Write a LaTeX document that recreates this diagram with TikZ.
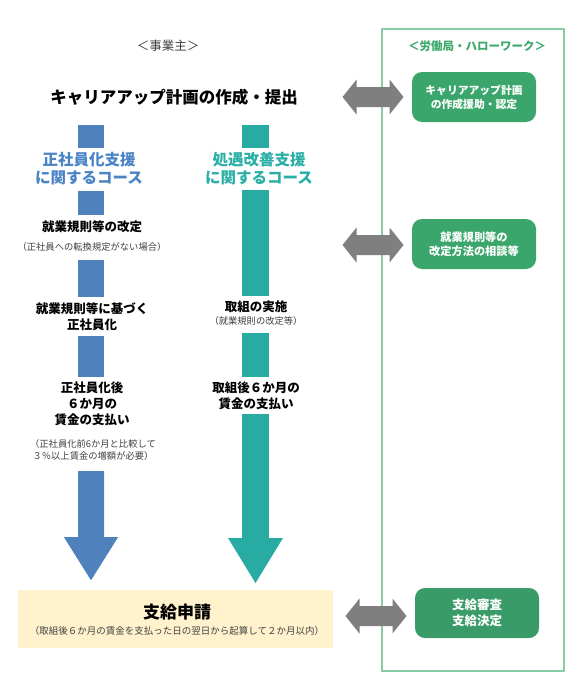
\documentclass[tikz,border=0pt]{standalone}
\usepackage{fontspec}
\setmainfont{Noto Sans CJK JP}
\definecolor{barblue}{HTML}{4F81BD}
\definecolor{txtblue}{HTML}{4A84C4}
\definecolor{barteal}{HTML}{27ABA3}
\definecolor{txtteal}{HTML}{2AAFA6}
\definecolor{gfill}{HTML}{3BA66B}
\definecolor{gfilldark}{HTML}{389B68}
\definecolor{framec}{HTML}{8ACBA4}
\definecolor{gtxt}{HTML}{3DA96C}
\definecolor{arrgray}{HTML}{7F7F7F}
\definecolor{ybox}{HTML}{FFF2CC}
\definecolor{notegray}{HTML}{404040}
\begin{document}
\begin{tikzpicture}[x=1pt,y=-1pt,
  txt/.style={inner sep=0pt, align=center, text=black, font=\bfseries\fontsize{12.5}{16}\selectfont},
  note/.style={inner sep=0pt, align=center, text=notegray, font=\fontsize{9.3}{12}\selectfont},
  course/.style={inner sep=0pt, align=center, font=\bfseries\fontsize{15.5}{18}\selectfont},
  gbox/.style={rounded corners=10pt, fill=gfill, text=white, minimum width=124pt, minimum height=50pt, align=center, inner sep=0pt, font=\bfseries\fontsize{10.8}{14}\selectfont},
  dbl/.pic={\fill[arrgray] (-30.5,0) -- (-16.5,-17.5) -- (-16.5,-10) -- (16.5,-10) -- (16.5,-17.5) -- (30.5,0) -- (16.5,17.5) -- (16.5,10) -- (-16.5,10) -- (-16.5,17.5) -- cycle;}
]
\useasboundingbox (0,0) rectangle (578,685);
\fill[white] (0,0) rectangle (578,685);

% right frame
\draw[framec, line width=1.3pt] (382,29) rectangle (564,671);
\node[inner sep=0pt, text=gtxt, font=\bfseries\fontsize{11.5}{14}\selectfont] (hdrR) at (477,46) {＜労働局・ハローワーク＞};
\node[inner sep=0pt, text=notegray, font=\fontsize{12.5}{15}\selectfont] (hdrL) at (168,46) {＜事業主＞};

% title
\node[inner sep=0pt, font=\bfseries\fontsize{16.5}{20}\selectfont] (title) at (174,97) {キャリアアップ計画の作成・提出};

% green boxes
\node[gbox] (g1) at (474,97) {キャリアアップ計画\\の作成援助・認定};
\node[gbox, font=\bfseries\fontsize{11.2}{14}\selectfont] (g2) at (474,244) {就業規則等の\\改定方法の相談等};
\node[gbox, fill=gfilldark, font=\bfseries\fontsize{12.5}{16.5}\selectfont] (g3) at (477,613) {支給審査\\支給決定};

% gray double arrows
\pic at (373,97) {dbl};
\pic at (373,245) {dbl};
\pic at (376,616) {dbl};

% blue column bars
\fill[barblue] (78,125) rectangle (104,148);
\fill[barblue] (78,191) rectangle (104,215);
\fill[barblue] (78,260) rectangle (104,297);
\fill[barblue] (78,336) rectangle (104,377);
\fill[barblue] (78,471) rectangle (104,538) -- (118,537) -- (91,580) -- (64,537) -- (78,537);
\fill[barblue] (64,537) -- (118,537) -- (91,580) -- cycle;

% teal column bars
\fill[barteal] (242,125) rectangle (269,148);
\fill[barteal] (242,190) rectangle (269,296);
\fill[barteal] (242,333) rectangle (269,377);
\fill[barteal] (242,414) rectangle (269,539);
\fill[barteal] (228,538) -- (283,538) -- (255.5,583) -- cycle;

% blue texts
\node[course, text=txtblue] (cb) at (89,169) {正社員化支援\\に関するコース};
\node[txt] (b1) at (92,227) {就業規則等の改定};
\node[note] (b1n) at (92,247) {（正社員への転換規定がない場合）};
\node[txt] (b2) at (92,317) {就業規則等に基づく\\正社員化};
\node[txt] (b3) at (92,404) {正社員化後\\６か月の\\賃金の支払い};
\node[note] (b3n) at (93,450) {（正社員化前6か月と比較して\\３％以上賃金の増額が必要）};

% teal texts
\node[course, text=txtteal] (ct) at (259,169) {処遇改善支援\\に関するコース};
\node[txt] (t1) at (256,307) {取組の実施};
\node[note] (t1n) at (256,321) {（就業規則の改定等）};
\node[txt] (t2) at (256,396) {取組後６か月の\\賃金の支払い};

% yellow box
\fill[ybox] (18,590) rectangle (333,648);
\node[inner sep=0pt, font=\bfseries\fontsize{17}{20}\selectfont] (apply) at (177,612) {支給申請};
\node[note, font=\fontsize{9.5}{12}\selectfont] (applyn) at (177,631) {（取組後６か月の賃金を支払った日の翌日から起算して２か月以内）};
\end{tikzpicture}
\end{document}
